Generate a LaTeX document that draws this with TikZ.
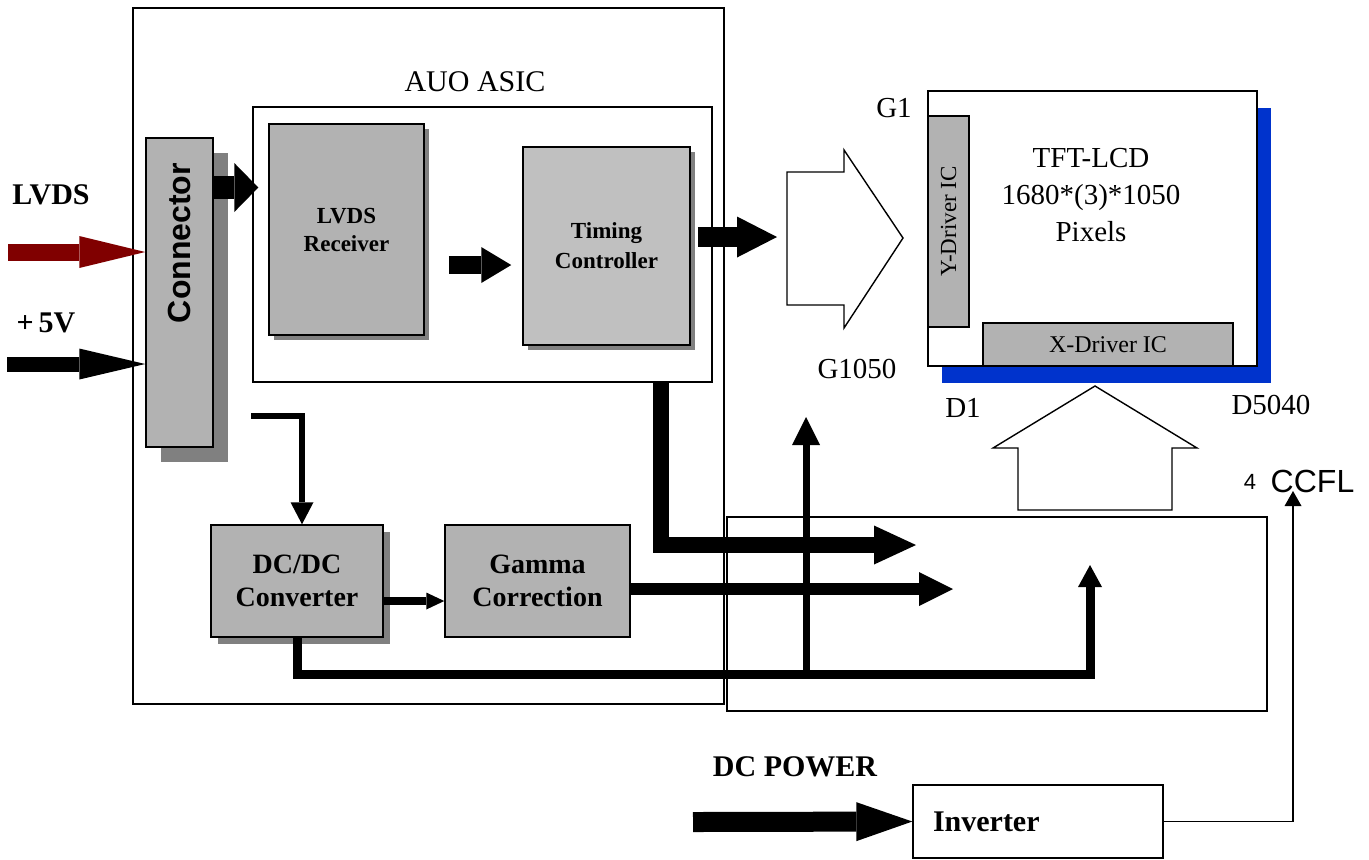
\documentclass[tikz,border=0pt]{standalone}
\usepackage{fontspec}
\setmainfont{Liberation Serif}
\setsansfont{Liberation Sans}
\usetikzlibrary{arrows.meta, shadows, positioning}

\definecolor{boxgray}{RGB}{178,178,178}
\definecolor{tcongray}{RGB}{192,192,192}
\definecolor{shadowgray}{RGB}{128,128,128}
\definecolor{panelblue}{RGB}{0,51,204}
\definecolor{lvdsred}{RGB}{128,0,0}
\newcommand{\fsz}[2]{\fontsize{#1}{#2}\selectfont}

\begin{document}
\begin{tikzpicture}[x=0.5pt, y=-0.5pt,
    frame/.style={draw, line width=0.7pt},
    block/.style={draw, line width=0.75pt, fill=boxgray, align=center, font=\bfseries\fsz{14}{16.5}},
    shadowed/.style={drop shadow={shadow xshift=#1, shadow yshift=-#1, fill=shadowgray, opacity=1}},
    lbl/.style={font=\fsz{14.5}{18.5}, inner sep=0pt},
    fat/.style n args={3}{line width=#1, -{Triangle[width=#2, length=#3, line width=0pt]}}]
    \useasboundingbox (0,0) rectangle (1369,859);

    \node[frame, minimum width=295.5pt, minimum height=348pt] (board) at (428.5,356) {};
    \node[frame, minimum width=270pt, minimum height=97pt] (lamp) at (997,614) {};
    \node[frame, fill=white, minimum width=229.5pt, minimum height=137.5pt] (asic) at (482.5,244.5) {};
    \node[lbl, font=\fsz{15}{18}] (asiclbl) at (475,82) {AUO ASIC};

    \node[block, shadowed=7.5pt, minimum width=33.5pt, minimum height=154.5pt] (conn) at (179.5,292.5) {};
    \node[rotate=90, font=\sffamily\bfseries\fsz{16}{16}] (conntxt) at (179.5,243) {Connector};
    \node[block, shadowed=2.5pt, font=\bfseries\fsz{11.5}{14}, minimum width=77.5pt, minimum height=105.5pt] (rx) at (346.5,229.5) {LVDS\\Receiver};
    \node[block, shadowed=2.5pt, fill=tcongray, font=\bfseries\fsz{11.5}{15}, minimum width=83.5pt, minimum height=99pt] (tcon) at (606.5,246) {Timing\\Controller};
    \node[block, shadowed=3.5pt, minimum width=86pt, minimum height=56pt] (dcdc) at (297,581) {DC/DC\\Converter};
    \node[block, minimum width=92.5pt, minimum height=56pt] (gamma) at (537.5,581) {Gamma\\Correction};

    % panel
    \node[frame, line width=0.75pt, fill=white, minimum width=164.5pt, minimum height=137.5pt,
        drop shadow={shadow xshift=7pt, shadow yshift=-8.5pt, fill=panelblue, opacity=1}] (lcd) at (1092.5,228.5) {};
    \node[block, rotate=90, font=\fsz{11.5}{12}, minimum width=105.5pt, minimum height=20.5pt] (ydrv) at (948.5,221.5) {Y-Driver IC};
    \node[block, font=\fsz{12}{12}, minimum width=125pt, minimum height=21.5pt] (xdrv) at (1108,344.5) {X-Driver IC};
    \node[lbl, align=center] (tft) at (1091,195) {TFT-LCD\\1680*(3)*1050\\Pixels};
    \node[lbl] (g1) at (894,108) {G1};
    \node[lbl] (gn) at (857,369) {G1050};
    \node[lbl] (d1) at (963,408) {D1};
    \node[lbl] (dn) at (1271,405) {D5040};

    % hollow arrows
    \draw[line width=0.7pt, fill=white] (787,172) -- (844,172) -- (844,150) -- (903,238) -- (844,328) -- (844,305) -- (787,305) -- cycle;
    \draw[line width=0.7pt, fill=white] (1095,386) -- (1197,448) -- (1172,448) -- (1172,510) -- (1018,510) -- (1018,448) -- (993,448) -- cycle;

    \node[draw, line width=0.7pt, minimum width=125pt, minimum height=36.5pt, text width=105pt, align=left,
        font=\bfseries\fsz{15}{18}] (inv) at (1038,821.5) {Inverter};
    \node[font=\bfseries\fsz{15}{18}] (dclbl) at (795,767) {DC POWER};
    \node[font=\sffamily\fsz{16}{16}] (ccfl) at (1312.5,481.5) {CCFL};
    \node[font=\sffamily\fsz{11}{11}] (four) at (1250,482) {4};
    \node[font=\bfseries\fsz{15}{18}] (lvdslbl) at (51,195) {LVDS};
    \node[font=\bfseries\fsz{15}{18}] (vlbl) at (46,323) {+\,5V};

    \coordinate (lvdsin) at (8,252);
    \coordinate (vin) at (7,364);
    \coordinate (tap) at (251,416);
    \coordinate (gtail) at (787,237);
    \coordinate (tin) at (916,545);
    \coordinate (gin) at (953,589);
    \coordinate (bus) at (1090,674);
    \coordinate (pin) at (1090,565);
    \coordinate (gpin) at (806,417);
    \coordinate (dcin) at (693,822);
    \coordinate (lampin) at (1293,491);

    \draw[fat={8.5pt}{16pt}{33pt}, lvdsred] (lvdsin) -- (lvdsin -| conn.west);
    \draw[fat={7.5pt}{15.5pt}{33pt}] (vin) -- (vin -| conn.west);
    \draw[fat={11.5pt}{24.5pt}{12pt}, shorten >=-3pt] ([yshift=52.5pt]conn.east) -- ([yshift=52.5pt]conn.east -| asic.west);
    \draw[fat={9pt}{18pt}{15pt}, shorten <=12pt, shorten >=5.5pt] ([yshift=-17.75pt]rx.east) -- ([yshift=-17.75pt]rx.east -| tcon.west);
    \draw[fat={10pt}{20.5pt}{20pt}, shorten <=3.5pt, shorten >=5pt] ([yshift=4.5pt]tcon.east) -- (gtail);
    \draw[fat={8pt}{19.5pt}{21pt}] ([xshift=89.25pt]asic.south) |- (tin);
    \draw[line width=3pt, -{Triangle[width=11.5pt, length=11pt, line width=0pt]}] (tap) -| ([xshift=2.5pt]dcdc.north);
    \draw[fat={4pt}{8.5pt}{9pt}] ([yshift=-10pt]dcdc.east) -- ([yshift=-10pt]dcdc.east -| gamma.west);
    \draw[fat={6pt}{17pt}{17pt}] ([yshift=-4pt]gamma.east) -- (gin);
    \draw[fat={4.5pt}{12pt}{11pt}] (dcdc.south) |- (bus) -- (pin);
    \draw[fat={3.5pt}{14pt}{14pt}] ([yshift=-1.5pt]bus -| gpin) -- (gpin);
    \draw[fat={10pt}{19.5pt}{28pt}] (dcin) -- (inv.west);
    \draw[line width=0.7pt, -{Triangle[width=8.5pt, length=7.5pt, line width=0pt]}] (inv.east) -| (lampin);
\end{tikzpicture}
\end{document}
